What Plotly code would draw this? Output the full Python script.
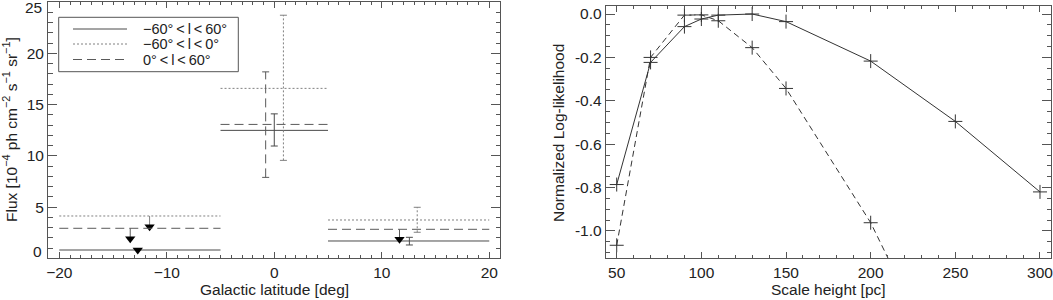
import plotly.graph_objects as go

W, H = 1053, 300

# ---------------- left panel data ----------------
bin_lo = [-20, -5, 5]
bin_hi = [-5, 5, 20]
flux_all = [0.81, 12.49, 1.69]   # -60<l<60  (solid)
flux_neg = [4.13, 16.59, 3.74]   # -60<l<0   (dotted)
flux_pos = [2.93, 13.07, 2.83]   # 0<l<60    (dashed)

err_all_x = [0.0, 12.57]
err_all_hi = [14.1, 2.05]
err_all_lo = [10.96, 1.30]
err_neg_x = [0.85, 13.3]
err_neg_hi = [23.73, 4.98]
err_neg_lo = [9.56, 2.54]
err_pos_x = [-0.8]
err_pos_hi = [18.2]
err_pos_lo = [7.9]

ul_all_x = [-12.7]
ul_all_top = [0.81]
ul_all_end = [0.81]
ul_neg_x = [-11.6]
ul_neg_top = [4.13]
ul_neg_end = [3.08]
ul_pos_x = [-13.4, 11.65]
ul_pos_top = [2.93, 2.83]
ul_pos_end = [1.91, 1.85]

left_yticks_mid = [5, 10, 15, 20]
left_ytick_ends = [0, 25]

legend_labels = ["\u221260\u00b0\u2009<\u2009l\u2009<\u200960\u00b0",
                 "\u221260\u00b0\u2009<\u2009l\u2009<\u20090\u00b0",
                 "0\u00b0\u2009<\u2009l\u2009<\u200960\u00b0"]

# ---------------- right panel data ----------------
scale_a = [50, 70, 90, 100, 110, 130, 150, 200, 250, 300]
loglike_a = [-0.786, -0.223, -0.058, -0.023, -0.005, 0.0, -0.035, -0.217, -0.495, -0.820]
scale_b = [50, 70, 90, 100, 110, 130, 150, 200, 250]
loglike_b = [-1.066, -0.200, -0.005, -0.004, -0.031, -0.155, -0.343, -0.962, -1.76]

right_yticks = [0.0, -0.2, -0.4, -0.6, -0.8, -1.0]
right_yticktext = ["0.0", "-0.2", "-0.4", "-0.6", "-0.8", "-1.0"]

FONT = "Liberation Sans, Arial, Helvetica, sans-serif"
FS = 15.5
AX = "#555555"
TXT = "#222222"

series = [
    dict(y=flux_all, ex=err_all_x, ehi=err_all_hi, elo=err_all_lo,
         ux=ul_all_x, utop=ul_all_top, uend=ul_all_end, color="#4a4a4a", dash="solid"),
    dict(y=flux_neg, ex=err_neg_x, ehi=err_neg_hi, elo=err_neg_lo,
         ux=ul_neg_x, utop=ul_neg_top, uend=ul_neg_end, color="#808080", dash="2px,2px"),
    dict(y=flux_pos, ex=err_pos_x, ehi=err_pos_hi, elo=err_pos_lo,
         ux=ul_pos_x, utop=ul_pos_top, uend=ul_pos_end, color="#5a5a5a", dash="9px,5px"),
]

fig = go.Figure()

for s in series:
    xs, ys = [], []
    for lo, hi, v in zip(bin_lo, bin_hi, s["y"]):
        xs += [lo, hi, None]
        ys += [v, v, None]
    fig.add_trace(go.Scatter(x=xs, y=ys, mode="lines", xaxis="x", yaxis="y",
                             line=dict(color=s["color"], width=1, dash=s["dash"]),
                             showlegend=False, hoverinfo="skip"))
    xs, ys = [], []
    for x, hi, lo in zip(s["ex"], s["ehi"], s["elo"]):
        xs += [x, x, None]
        ys += [lo, hi, None]
    fig.add_trace(go.Scatter(x=xs, y=ys, mode="lines", xaxis="x", yaxis="y",
                             line=dict(color=s["color"], width=1, dash=s["dash"]),
                             showlegend=False, hoverinfo="skip"))
    capx = [x for x in s["ex"] for _ in range(2)]
    capy = [v for hi, lo in zip(s["ehi"], s["elo"]) for v in (hi, lo)]
    fig.add_trace(go.Scatter(x=capx, y=capy, mode="markers", xaxis="x", yaxis="y",
                             marker=dict(symbol="line-ew", size=5,
                                         line=dict(color=s["color"], width=1)),
                             showlegend=False, hoverinfo="skip"))
    xs, ys = [], []
    for x, t, e in zip(s["ux"], s["utop"], s["uend"]):
        xs += [x, x, None]
        ys += [t, e, None]
    fig.add_trace(go.Scatter(x=xs, y=ys, mode="lines", xaxis="x", yaxis="y",
                             line=dict(color=s["color"], width=1),
                             showlegend=False, hoverinfo="skip"))
    fig.add_trace(go.Scatter(x=s["ux"], y=s["uend"], mode="markers", xaxis="x", yaxis="y",
                             marker=dict(symbol="triangle-down", size=9, color="#000000",
                                         line=dict(width=0)),
                             showlegend=False, hoverinfo="skip", cliponaxis=False))

fig.add_trace(go.Scatter(x=scale_a, y=loglike_a, mode="lines+markers", xaxis="x2", yaxis="y2",
                         line=dict(color="#333333", width=1),
                         marker=dict(symbol="cross-thin-open", size=10,
                                     line=dict(color="#333333", width=1)),
                         showlegend=False, hoverinfo="skip"))
fig.add_trace(go.Scatter(x=scale_b, y=loglike_b, mode="lines+markers", xaxis="x2", yaxis="y2",
                         line=dict(color="#333333", width=1, dash="6px,4px"),
                         marker=dict(symbol="cross-thin-open", size=10,
                                     line=dict(color="#333333", width=1)),
                         showlegend=False, hoverinfo="skip"))


def axis(domain, rng, ticklen, anchor, **kw):
    d = dict(domain=domain, range=rng, anchor=anchor, showline=True, linecolor=AX, linewidth=1,
             mirror="allticks", ticks="inside", ticklen=ticklen, tickwidth=1, tickcolor=AX,
             showgrid=False, zeroline=False, automargin=False, ticklabeloverflow="allow",
             tickfont=dict(family=FONT, size=FS, color=TXT))
    d.update(kw)
    return d


def px(x):
    return x / W


def py(y):
    return 1 - y / H


LX = [px(48), px(500)]
LY = [py(258.3), py(1.7)]
RX = [px(605.7), px(1051)]
RY = [py(258.3), py(6)]
LYR = [0, 25.05]

fig.update_layout(
    width=W, height=H, margin=dict(l=0, r=0, t=0, b=0, autoexpand=False),
    paper_bgcolor="white", plot_bgcolor="white", showlegend=False,
    xaxis=axis(LX, [-21.05, 21.0], 6, "y", tickmode="linear", tick0=0, dtick=10,
               minor=dict(ticks="inside", ticklen=3, tickmode="linear", tick0=0, dtick=1,
                          tickcolor=AX, tickwidth=1, showgrid=False)),
    yaxis=axis(LY, LYR, 9, "x", tickmode="array", tickvals=left_yticks_mid,
               minor=dict(ticks="inside", ticklen=4.5, tickmode="linear", tick0=0, dtick=1,
                          tickcolor=AX, tickwidth=1, showgrid=False)),
    xaxis2=axis(RX, [43.5, 306.5], 6, "y2", tickmode="linear", tick0=0, dtick=50,
                minor=dict(ticks="inside", ticklen=3, tickmode="linear", tick0=0, dtick=10,
                           tickcolor=AX, tickwidth=1, showgrid=False)),
    yaxis2=axis(RY, [-1.126, 0.037], 9, "x2", tickmode="array",
                tickvals=right_yticks, ticktext=right_yticktext,
                minor=dict(ticks="inside", ticklen=4.5, tickmode="linear", tick0=0, dtick=0.05,
                           tickcolor=AX, tickwidth=1, showgrid=False)),
)

# end labels of the left y axis (IDL nudges them inside the box edges)
for v, shift in zip(left_ytick_ends, [6.5, -5.5]):
    fig.add_annotation(xref="paper", yref="y", x=px(44), y=v, yshift=shift, text=str(v),
                       showarrow=False, xanchor="right", yanchor="middle",
                       font=dict(family=FONT, size=FS, color=TXT))

annots = [
    dict(text="Flux [10<sup>\u22124</sup> ph cm<sup>\u22122</sup> s<sup>\u22121</sup> sr<sup>\u22121</sup>]",
         x=px(10), y=py(130), textangle=-90),
    dict(text="Galactic latitude [deg]", x=px(274), y=py(289)),
    dict(text="Normalized Log-likelihood", x=px(558), y=py(133), textangle=-90),
    dict(text="Scale height [pc]", x=px(828), y=py(289)),
]
for a in annots:
    fig.add_annotation(xref="paper", yref="paper", showarrow=False, xanchor="center", yanchor="middle",
                       font=dict(family=FONT, size=FS, color=TXT), **a)

fig.add_shape(type="rect", xref="paper", yref="paper", x0=px(58.7), x1=px(238.3), y0=py(71.7), y1=py(17.3),
              line=dict(color=AX, width=1), fillcolor="white", layer="below")
rows = [29, 44, 59.5]
for r, s, lab in zip(rows, series, legend_labels):
    fig.add_shape(type="line", xref="paper", yref="paper", x0=px(73), x1=px(127), y0=py(r), y1=py(r),
                  line=dict(color=s["color"], width=1, dash=s["dash"]))
    fig.add_annotation(xref="paper", yref="paper", x=px(141), y=py(r), text=lab, showarrow=False,
                       xanchor="left", yanchor="middle", font=dict(family=FONT, size=14.5, color=TXT))

fig.write_html("out.html", config={"displayModeBar": False, "staticPlot": True},
               post_script="document.body.style.margin='0px';document.body.style.overflow='hidden';")
